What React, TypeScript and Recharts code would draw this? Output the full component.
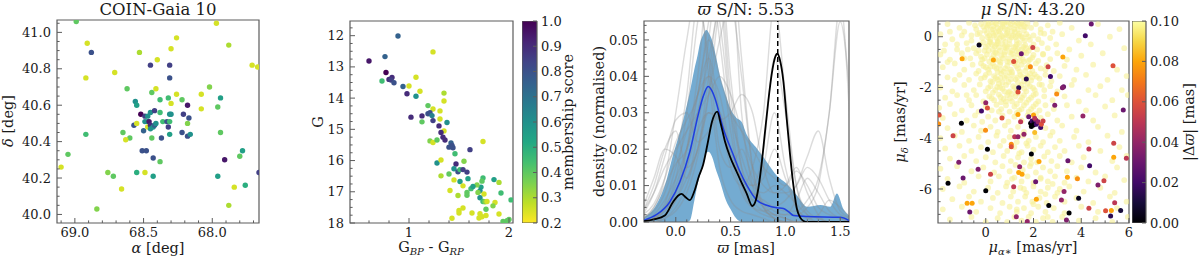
import React from "react";
import {
  Area,
  Bar,
  ComposedChart,
  Line,
  ReferenceArea,
  ReferenceLine,
  Scatter,
  XAxis,
  YAxis,
} from "recharts";

const FONT = "'DejaVu Serif', serif";
const FRAME = "#5c5c5c";
const INK = "#1a1a1a";
const FS_TICK = 13;

// ---------- panel 1: sky positions [ra, dec, membership] ----------
const skyDomainRa: [number, number] = [67.66, 69.13];
const skyDomainDec: [number, number] = [39.953, 41.068];
const skyStars: number[][] = [
  [68.99, 41.06, 0.4], [68.91, 40.94, 0.25], [68.88, 40.89, 0.8], [68.53, 40.89, 0.3],
  [68.92, 40.75, 0.25], [68.71, 40.78, 0.25], [68.45, 40.82, 0.85], [68.4, 40.85, 0.25],
  [68.31, 40.82, 0.85], [68.3, 40.91, 0.25], [68.26, 40.97, 0.25], [68.31, 40.75, 0.8],
  [67.97, 41.05, 0.25], [67.88, 40.93, 0.3], [67.71, 40.82, 0.25], [67.67, 40.81, 0.25],
  [68.62, 40.69, 0.4], [68.44, 40.67, 0.4], [68.41, 40.69, 0.25], [68.26, 40.66, 0.25],
  [68.02, 40.7, 0.35], [68.08, 40.66, 0.25], [67.94, 40.64, 0.55], [68.56, 40.62, 0.6],
  [68.55, 40.6, 0.55], [68.38, 40.63, 0.45], [68.32, 40.64, 0.45], [68.3, 40.61, 0.25],
  [68.22, 40.63, 0.4], [68.08, 40.58, 0.25], [67.96, 40.59, 0.4], [68.18, 40.6, 0.95],
  [68.52, 40.55, 1.0], [68.49, 40.54, 0.85], [68.47, 40.54, 0.6], [68.45, 40.56, 0.6],
  [68.42, 40.57, 0.85], [68.38, 40.56, 0.45], [68.31, 40.55, 0.6], [68.3, 40.55, 0.6],
  [68.21, 40.55, 0.85], [68.17, 40.53, 0.8], [68.57, 40.49, 0.8], [68.55, 40.5, 0.25],
  [68.5, 40.46, 0.75], [68.49, 40.51, 0.6], [68.47, 40.51, 0.6], [68.47, 40.48, 0.25],
  [68.46, 40.51, 0.95], [68.45, 40.49, 0.9], [68.45, 40.47, 0.6], [68.43, 40.48, 0.6],
  [68.42, 40.49, 0.75], [68.41, 40.5, 0.6], [68.36, 40.51, 0.45], [68.33, 40.51, 0.8],
  [68.32, 40.48, 0.85], [68.31, 40.51, 0.45], [68.31, 40.44, 0.55], [68.44, 40.42, 0.4],
  [68.37, 40.42, 0.8], [68.22, 40.45, 0.8], [68.18, 40.5, 0.35], [68.18, 40.43, 0.8],
  [68.16, 40.44, 0.6], [68.65, 40.45, 0.4], [68.6, 40.42, 0.4], [68.63, 40.41, 0.25],
  [68.92, 40.44, 0.45], [67.94, 40.45, 0.4], [68.51, 40.35, 0.8], [68.48, 40.35, 0.8],
  [68.43, 40.31, 0.8], [68.38, 40.29, 0.4], [69.05, 40.33, 0.4], [69.1, 40.26, 0.25],
  [68.76, 40.23, 0.35], [68.72, 40.21, 0.4], [68.55, 40.23, 0.5], [68.49, 40.23, 0.25],
  [68.43, 40.21, 0.55], [68.66, 40.14, 0.25], [68.84, 40.03, 0.35], [67.96, 40.21, 0.55],
  [67.91, 40.3, 0.95], [67.8, 40.32, 0.4], [67.78, 40.35, 0.55], [67.76, 40.16, 0.5],
  [67.84, 40.15, 0.25], [67.88, 40.05, 0.3], [67.66, 40.23, 0.85],
];
const skyRaTicks = [67.7, 67.8, 67.9, 68.0, 68.1, 68.2, 68.3, 68.4, 68.5, 68.6, 68.7, 68.8, 68.9, 69.0, 69.1];
const skyRaMajor = [68.0, 68.5, 69.0];
const skyDecTicks = [40.0, 40.05, 40.1, 40.15, 40.2, 40.25, 40.3, 40.35, 40.4, 40.45, 40.5, 40.55, 40.6, 40.65, 40.7, 40.75, 40.8, 40.85, 40.9, 40.95, 41.0, 41.05];
const skyDecMajor = [40.0, 40.2, 40.4, 40.6, 40.8, 41.0];

// ---------- panel 2: CMD [bp-rp, G, membership] ----------
const cmdDomainColor: [number, number] = [0.41, 2.04];
const cmdDomainMag: [number, number] = [11.53, 18];
const cmdStars: number[][] = [
  [0.89, 12.01, 0.75], [0.6, 12.81, 0.95], [0.76, 12.67, 0.75], [1.24, 12.52, 0.25],
  [0.77, 13.18, 1.0], [0.73, 13.45, 0.45], [0.8, 13.4, 0.9], [0.83, 13.34, 0.9],
  [0.82, 13.42, 0.85], [0.85, 13.51, 0.8], [0.94, 13.63, 0.75], [1.0, 13.61, 0.25],
  [1.07, 13.33, 0.25], [0.98, 13.86, 0.9], [1.07, 13.94, 0.6], [1.11, 13.78, 0.25],
  [1.35, 13.84, 0.3], [1.35, 14.09, 0.25], [1.19, 14.24, 0.4], [1.24, 14.35, 0.25],
  [1.31, 14.41, 0.25], [1.19, 14.5, 0.8], [1.21, 14.47, 0.8], [1.23, 14.56, 0.65],
  [1.02, 14.61, 0.9], [1.13, 14.57, 0.9], [1.13, 14.76, 0.4], [1.24, 14.72, 0.85],
  [1.31, 14.67, 0.25], [1.38, 14.78, 0.6], [1.3, 14.89, 0.9], [1.35, 15.05, 0.25],
  [1.32, 15.1, 0.9], [1.34, 15.25, 0.9], [1.36, 15.34, 0.9], [1.21, 15.37, 0.35],
  [1.24, 15.42, 0.25], [1.28, 15.34, 0.4], [1.42, 15.44, 0.75], [1.43, 15.52, 0.8],
  [1.4, 15.57, 0.8], [1.44, 15.59, 0.8], [1.61, 15.65, 0.85], [1.74, 15.39, 0.25],
  [1.46, 15.78, 0.45], [1.28, 16.08, 0.6], [1.32, 15.98, 0.25], [1.47, 16.11, 0.9],
  [1.55, 16.02, 0.35], [1.45, 16.26, 0.6], [1.49, 16.36, 0.8], [1.51, 16.29, 0.45],
  [1.54, 16.29, 0.85], [1.58, 16.37, 0.85], [1.4, 16.43, 0.4], [1.32, 16.49, 0.3],
  [1.59, 16.58, 0.55], [1.45, 16.62, 0.25], [1.51, 16.67, 0.55], [1.74, 16.56, 0.45],
  [1.73, 16.66, 0.4], [1.85, 16.61, 0.55], [1.9, 16.7, 0.3], [1.72, 16.85, 0.55],
  [1.68, 16.78, 0.35], [1.62, 16.9, 0.45], [1.64, 16.83, 0.55], [1.54, 16.81, 0.25],
  [1.41, 16.96, 0.25], [1.71, 16.97, 0.6], [1.69, 17.02, 0.35], [1.75, 17.07, 0.25],
  [1.58, 17.02, 0.4], [1.58, 17.11, 0.4], [1.49, 17.12, 0.3], [1.92, 17.04, 0.45],
  [1.71, 17.19, 0.6], [1.74, 17.31, 0.45], [1.76, 17.32, 0.35], [1.78, 17.31, 0.25],
  [1.86, 17.34, 0.25], [1.84, 17.45, 0.35], [1.77, 17.56, 0.4], [2.02, 17.26, 0.45],
  [1.54, 17.52, 0.25], [1.5, 17.6, 0.25], [1.5, 17.68, 0.25], [1.63, 17.68, 0.25],
  [1.71, 17.7, 0.25], [1.73, 17.8, 0.25], [1.77, 17.76, 0.25], [1.9, 17.71, 0.25],
  [1.43, 17.85, 0.25], [1.7, 17.84, 0.25], [1.94, 17.95, 0.4], [1.98, 17.93, 0.4],
  [2.0, 17.89, 0.4],
];
const cmdColorTicks = [0.6, 0.8, 1.0, 1.2, 1.4, 1.6, 1.8, 2.0];
const cmdColorMajor = [1, 2];
const cmdMagTicks = [11.75, 12, 12.25, 12.5, 12.75, 13, 13.25, 13.5, 13.75, 14, 14.25, 14.5, 14.75, 15, 15.25, 15.5, 15.75, 16, 16.25, 16.5, 16.75, 17, 17.25, 17.5, 17.75, 18];
const cmdMagMajor = [12, 13, 14, 15, 16, 17, 18];
const memDomain: [number, number] = [0.2, 1.0];
const memTicks = [0.2, 0.3, 0.4, 0.5, 0.6, 0.7, 0.8, 0.9, 1.0];

// ---------- panel 3: parallax densities ----------
const plxDomainX: [number, number] = [-0.29, 1.58];
const plxDomainY: [number, number] = [0, 0.0552];
const plxCut = 0.93;
const bandX = [-0.29, -0.18, -0.1, -0.025, 0.05, 0.1, 0.13, 0.17, 0.2, 0.22, 0.25, 0.28, 0.3, 0.33, 0.37, 0.4, 0.46, 0.5, 0.55, 0.6, 0.65, 0.74, 0.83, 0.92, 1.01, 1.1, 1.2, 1.32, 1.41, 1.47, 1.53, 1.58];
const bandHigh = [0.0012, 0.0046, 0.01, 0.0184, 0.026, 0.032, 0.036, 0.042, 0.0459, 0.049, 0.0515, 0.0527, 0.052, 0.05, 0.045, 0.0405, 0.0345, 0.031, 0.0287, 0.0275, 0.0238, 0.0202, 0.0165, 0.0128, 0.0106, 0.0075, 0.0042, 0.0047, 0.0042, 0.0078, 0.0035, 0.0018];
const bandLow = [0, 0, 0, 0, 0, 0, 0.0005, 0.006, 0.0105, 0.0128, 0.016, 0.019, 0.0193, 0.018, 0.014, 0.0115, 0.0058, 0.0035, 0.001, 0, 0, 0, 0, 0, 0, 0, 0, 0, 0, 0, 0, 0];
const medianCurve = [
  [-0.29, 0.0005], [-0.177, 0.002], [-0.055, 0.0055], [0.037, 0.011], [0.128, 0.0193],
  [0.204, 0.0294], [0.25, 0.0345], [0.296, 0.0372], [0.33, 0.036], [0.357, 0.034],
  [0.433, 0.0257], [0.525, 0.0184], [0.586, 0.0138], [0.647, 0.0101], [0.738, 0.006],
  [0.83, 0.0046], [0.921, 0.0039], [0.982, 0.0037], [1.03, 0.0028], [1.073, 0.0018],
  [1.195, 0.0015], [1.5, 0.0013], [1.58, 0.0004],
];
const clusterCurve = [
  [-0.29, 0.0002], [-0.2, 0.0007], [-0.1, 0.0018], [-0.025, 0.0055], [0.02, 0.0072],
  [0.052, 0.0077], [0.09, 0.0068], [0.128, 0.006], [0.17, 0.0085], [0.21, 0.0125],
  [0.25, 0.0158], [0.29, 0.0215], [0.33, 0.0275], [0.378, 0.0303], [0.41, 0.027],
  [0.448, 0.0222], [0.494, 0.018], [0.555, 0.0138], [0.6, 0.0108], [0.647, 0.0078],
  [0.698, 0.0044], [0.725, 0.0055], [0.753, 0.0092], [0.785, 0.0165], [0.814, 0.0248],
  [0.845, 0.0335], [0.876, 0.0408], [0.905, 0.0452], [0.927, 0.0462], [0.95, 0.0445],
  [0.982, 0.0385], [1.01, 0.029], [1.043, 0.0183], [1.075, 0.0095], [1.104, 0.0037],
  [1.135, 0.0012], [1.165, 0.0003], [1.2, 0], [1.58, 0],
];
const greyX = [-0.3, -0.2, -0.1, 0, 0.1, 0.2, 0.3, 0.4, 0.5, 0.6, 0.7, 0.8, 0.9, 1.0, 1.1, 1.2, 1.3, 1.4, 1.5, 1.6];
const greyCurves = [
  [0, 0.001, 0.004, 0.012, 0.03, 0.055, 0.07, 0.05, 0.025, 0.01, 0.004, 0.002, 0.001, 0, 0, 0, 0, 0, 0, 0],
  [0.001, 0.003, 0.008, 0.018, 0.035, 0.06, 0.045, 0.02, 0.015, 0.02, 0.012, 0.004, 0.001, 0, 0, 0, 0, 0, 0, 0],
  [0.003, 0.01, 0.02, 0.025, 0.015, 0.02, 0.04, 0.06, 0.03, 0.01, 0.006, 0.015, 0.03, 0.015, 0.004, 0.001, 0, 0, 0, 0],
  [0, 0, 0.002, 0.006, 0.012, 0.02, 0.035, 0.05, 0.06, 0.04, 0.015, 0.005, 0.002, 0.001, 0, 0, 0, 0, 0, 0],
  [0.002, 0.008, 0.018, 0.028, 0.03, 0.022, 0.025, 0.03, 0.018, 0.008, 0.004, 0.003, 0.004, 0.006, 0.01, 0.018, 0.025, 0.012, 0.003, 0.001],
  [0, 0.002, 0.006, 0.012, 0.02, 0.03, 0.04, 0.035, 0.02, 0.012, 0.008, 0.006, 0.004, 0.003, 0.003, 0.006, 0.012, 0.03, 0.06, 0.02],
  [0, 0, 0.001, 0.004, 0.01, 0.02, 0.03, 0.028, 0.018, 0.012, 0.01, 0.02, 0.045, 0.03, 0.01, 0.003, 0.001, 0, 0, 0],
  [0.004, 0.012, 0.02, 0.018, 0.012, 0.025, 0.05, 0.07, 0.04, 0.015, 0.006, 0.003, 0.002, 0.002, 0.006, 0.012, 0.008, 0.003, 0.001, 0],
  [0, 0.001, 0.003, 0.008, 0.02, 0.04, 0.065, 0.055, 0.03, 0.018, 0.01, 0.008, 0.01, 0.008, 0.005, 0.002, 0.001, 0, 0, 0],
  [0.001, 0.004, 0.01, 0.016, 0.02, 0.035, 0.05, 0.04, 0.03, 0.025, 0.02, 0.015, 0.012, 0.01, 0.014, 0.01, 0.004, 0.002, 0.001, 0],
  [0, 0.001, 0.002, 0.006, 0.015, 0.03, 0.045, 0.06, 0.07, 0.03, 0.01, 0.004, 0.002, 0.001, 0, 0, 0, 0, 0, 0],
  [0.002, 0.005, 0.012, 0.022, 0.028, 0.035, 0.055, 0.065, 0.035, 0.015, 0.01, 0.012, 0.02, 0.012, 0.004, 0.001, 0.002, 0.006, 0.004, 0.001],
  [0.001, 0.004, 0.012, 0.03, 0.05, 0.065, 0.04, 0.015, 0.006, 0.003, 0.002, 0.001, 0, 0, 0, 0, 0, 0, 0, 0],
  [0, 0.001, 0.003, 0.008, 0.015, 0.025, 0.03, 0.028, 0.03, 0.035, 0.03, 0.015, 0.008, 0.01, 0.015, 0.008, 0.002, 0, 0, 0],
  [0, 0.001, 0.004, 0.01, 0.02, 0.035, 0.045, 0.03, 0.015, 0.01, 0.015, 0.03, 0.06, 0.035, 0.01, 0.002, 0, 0, 0, 0],
  [0.003, 0.008, 0.015, 0.02, 0.025, 0.03, 0.035, 0.04, 0.035, 0.025, 0.015, 0.01, 0.008, 0.008, 0.01, 0.015, 0.012, 0.006, 0.002, 0.001],
  [0, 0, 0.001, 0.003, 0.008, 0.018, 0.035, 0.06, 0.075, 0.045, 0.015, 0.004, 0.001, 0, 0, 0, 0, 0, 0, 0],
  [0, 0.001, 0.005, 0.015, 0.025, 0.035, 0.04, 0.03, 0.02, 0.012, 0.008, 0.005, 0.003, 0.002, 0.002, 0.004, 0.01, 0.03, 0.055, 0.03],
];
const plxXTicks = [-0.2, -0.1, 0, 0.1, 0.2, 0.3, 0.4, 0.5, 0.6, 0.7, 0.8, 0.9, 1.0, 1.1, 1.2, 1.3, 1.4, 1.5];
const plxXMajor = [0, 0.5, 1.0, 1.5];
const plxYTicks = [0, 0.002, 0.004, 0.006, 0.008, 0.01, 0.012, 0.014, 0.016, 0.018, 0.02, 0.022, 0.024, 0.026, 0.028, 0.03, 0.032, 0.034, 0.036, 0.038, 0.04, 0.042, 0.044, 0.046, 0.048, 0.05, 0.052, 0.054];
const plxYMajor = [0, 0.01, 0.02, 0.03, 0.04, 0.05];

// ---------- panel 4: proper motions ----------
const pmDomainX: [number, number] = [-2, 6];
const pmDomainY: [number, number] = [-7.34, 0.62];
// stars with |dplx| < 0.1 : [pmra, pmdec, |dplx|]
const pmStars: number[][] = [
  [4.42, 0.5, 0.03], [4.17, 0.04, 0.02], [-0.28, -0.33, 0.005], [1.97, -0.42, 0.055],
  [1.49, -0.67, 0.03], [3.23, -0.8, 0.08], [-0.99, -0.87, 0.08], [0.32, -0.92, 0.08],
  [1.17, -0.98, 0.06], [1.87, -1.18, 0.075], [2.61, -1.18, 0.055], [5.33, -1.14, 0.06],
  [1.7, -1.67, 0.015], [2.71, -1.57, 0.02], [1.38, -2.01, 0.015], [3.26, -1.97, 0.03],
  [3.21, -2.01, 0.035], [1.35, -2.18, 0.06], [2.97, -2.26, 0.075], [0.0, -2.6, 0.04],
  [0.07, -2.81, 0.06], [-0.18, -2.93, 0.02], [-1.02, -3.41, 0.0], [-1.95, -3.08, 0.06],
  [-1.97, -3.44, 0.075], [-1.37, -3.9, 0.055], [-0.01, -3.69, 0.075], [0.68, -3.2, 0.06],
  [1.35, -3.06, 0.08], [1.46, -3.35, 0.05], [1.8, -3.15, 0.03], [2.0, -3.08, 0.08],
  [1.88, -3.41, 0.0], [1.94, -3.32, 0.02], [2.02, -3.37, 0.01], [2.09, -3.28, 0.03],
  [2.0, -3.48, 0.0], [2.12, -3.45, 0.02], [2.05, -3.21, 0.05], [2.19, -3.35, 0.04],
  [1.91, -3.54, 0.0], [2.05, -3.77, 0.085], [2.3, -3.58, 0.02], [2.33, -3.45, 0.06],
  [2.4, -3.32, 0.055], [1.6, -3.84, 0.04], [1.21, -3.94, 0.05], [1.35, -3.94, 0.04],
  [1.07, -4.24, 0.075], [1.07, -4.34, 0.06], [0.07, -4.43, 0.0], [1.91, -4.62, 0.0],
  [2.23, -4.92, 0.08], [3.44, -4.89, 0.03], [4.32, -4.42, 0.05], [4.35, -5.08, 0.02],
  [5.36, -4.2, 0.055], [5.36, -4.75, 0.08], [5.89, -4.79, 0.05], [5.76, -2.89, 0.03],
  [4.07, -3.12, 0.04], [2.89, -2.7, 0.035], [-1.13, -4.95, 0.035], [-0.32, -5.22, 0.035],
  [-0.95, -5.57, 0.03], [-1.58, -5.77, 0.0], [0.2, -5.42, 0.055], [0.0, -6.07, 0.0],
  [1.42, -5.12, 0.04], [1.38, -5.35, 0.08], [1.52, -5.42, 0.08], [1.17, -5.91, 0.05],
  [2.09, -5.71, 0.03], [2.12, -6.4, 0.08], [2.64, -6.65, 0.0], [3.28, -6.1, 0.04],
  [3.17, -6.43, 0.04], [3.42, -5.54, 0.08], [3.84, -5.6, 0.075], [3.89, -6.36, 0.005],
  [4.7, -5.84, 0.035], [4.95, -5.68, 0.055], [3.49, -6.95, 0.0], [3.38, -7.22, 0.035],
  [4.32, -6.76, 0.055], [5.02, -6.86, 0.06], [5.26, -6.85, 0.08], [5.4, -6.54, 0.05],
  [5.23, -7.06, 0.015], [5.65, -6.85, 0.01], [-0.78, -6.56, 0.08], [-0.57, -6.56, 0.08],
  [-0.67, -6.91, 0.03], [1.28, -7.09, 0.04], [1.74, -7.28, 0.04],
];
// stars with |dplx| >= 0.1 (drawn at the top of the colour scale): [pmra, pmdec]
const pmField: number[][] = [
  [-1.6, 0.5], [-1.1, 0.35], [-0.7, 0.55], [-0.4, 0.3], [-0.2, 0.5], [-0.05, 0.25], [0.1, 0.45], [0.25, 0.58], [0.3, 0.3], [0.45, 0.5], [0.55, 0.22], [0.7, 0.4], [0.85, 0.58], [0.9, 0.28], [1.05, 0.48], [1.2, 0.3], [1.3, 0.55], [1.45, 0.4], [1.6, 0.25], [1.75, 0.52], [1.9, 0.35], [2.1, 0.5], [2.3, 0.3], [2.6, 0.45], [3.1, 0.55], [3.6, 0.35], [4.7, 0.5], [5.6, 0.3], [0.0, 0.6], [0.6, 0.6], [1.15, 0.6], [1.55, 0.6], [-0.9, 0.2], [2.8, 0.2],
  [-1.9, 0.1], [-1.4, -0.1], [-1.0, 0.05], [-0.6, -0.15], [-0.35, 0.1], [-0.15, -0.05], [0.05, 0.15], [0.2, -0.1], [0.35, 0.05], [0.5, -0.18], [0.6, 0.12], [0.75, -0.05], [0.9, 0.15], [1.0, -0.12], [1.15, 0.05], [1.3, -0.15], [1.4, 0.12], [1.55, -0.05], [1.7, 0.1], [1.85, -0.12], [2.0, 0.05], [2.2, -0.1], [2.45, 0.12], [2.7, -0.05], [3.2, 0.1], [3.9, -0.15], [5.2, 0.0], [0.42, 0.18], [1.22, 0.18], [0.15, -0.2], [0.82, -0.2],
  [-1.7, -0.3], [-1.2, -0.5], [-0.8, -0.25], [-0.5, -0.45], [-0.25, -0.3], [-0.05, -0.55], [0.1, -0.35], [0.3, -0.5], [0.45, -0.3], [0.6, -0.55], [0.7, -0.28], [0.85, -0.45], [1.0, -0.3], [1.1, -0.55], [1.25, -0.38], [1.4, -0.25], [1.5, -0.5], [1.65, -0.33], [1.8, -0.55], [2.0, -0.3], [2.15, -0.5], [2.35, -0.25], [2.6, -0.45], [2.95, -0.3], [3.5, -0.5], [4.4, -0.3], [5.8, -0.45], [0.2, -0.22], [0.55, -0.42], [1.35, -0.48],
  [-1.9, -0.7], [-1.5, -0.9], [-1.0, -0.65], [-0.65, -0.85], [-0.4, -0.65], [-0.15, -0.9], [0.05, -0.7], [0.25, -0.85], [0.4, -0.62], [0.55, -0.95], [0.65, -0.75], [0.8, -0.6], [0.95, -0.85], [1.1, -0.68], [1.25, -0.95], [1.35, -0.7], [1.55, -0.88], [1.7, -0.65], [1.85, -0.9], [2.0, -0.72], [2.2, -0.95], [2.4, -0.68], [2.7, -0.88], [3.0, -0.65], [3.4, -0.9], [4.0, -0.75], [4.9, -0.65], [0.15, -0.98], [0.9, -0.98], [1.6, -0.98],
  [-1.8, -1.2], [-1.3, -1.05], [-0.9, -1.3], [-0.55, -1.1], [-0.3, -1.35], [-0.1, -1.15], [0.1, -1.3], [0.3, -1.05], [0.45, -1.25], [0.6, -1.1], [0.75, -1.38], [0.9, -1.15], [1.05, -1.3], [1.2, -1.05], [1.35, -1.25], [1.5, -1.1], [1.65, -1.35], [1.8, -1.15], [1.95, -1.35], [2.1, -1.05], [2.3, -1.25], [2.55, -1.12], [2.85, -1.35], [3.3, -1.15], [3.8, -1.3], [4.5, -1.1], [5.5, -1.3], [0.5, -1.4], [1.1, -1.4], [0.2, -1.18],
  [-1.6, -1.6], [-1.1, -1.5], [-0.7, -1.7], [-0.4, -1.45], [-0.2, -1.65], [0.0, -1.5], [0.2, -1.75], [0.35, -1.55], [0.5, -1.7], [0.65, -1.45], [0.8, -1.62], [0.95, -1.78], [1.1, -1.5], [1.25, -1.68], [1.45, -1.5], [1.6, -1.75], [1.75, -1.55], [1.9, -1.72], [2.05, -1.48], [2.25, -1.65], [2.5, -1.5], [2.75, -1.75], [3.1, -1.55], [3.7, -1.7], [4.2, -1.5], [5.1, -1.7], [5.9, -1.55], [0.7, -1.8], [1.35, -1.8],
  [-1.9, -2.0], [-1.4, -2.15], [-0.9, -1.9], [-0.5, -2.1], [-0.25, -1.88], [0.0, -2.15], [0.2, -1.95], [0.4, -2.1], [0.55, -1.85], [0.7, -2.05], [0.85, -1.9], [1.0, -2.15], [1.15, -1.95], [1.3, -2.12], [1.5, -1.9], [1.7, -2.15], [1.85, -1.95], [2.05, -2.1], [2.25, -1.88], [2.45, -2.1], [2.7, -1.95], [3.0, -2.15], [3.6, -1.9], [4.3, -2.1], [4.8, -1.95], [5.7, -2.1], [0.95, -2.2], [0.3, -2.2],
  [-1.7, -2.4], [-1.2, -2.3], [-0.7, -2.5], [-0.4, -2.3], [-0.1, -2.55], [0.15, -2.35], [0.35, -2.5], [0.55, -2.28], [0.75, -2.45], [0.9, -2.3], [1.1, -2.55], [1.25, -2.35], [1.45, -2.5], [1.6, -2.3], [1.8, -2.48], [2.0, -2.3], [2.2, -2.55], [2.45, -2.35], [2.8, -2.5], [3.3, -2.35], [3.9, -2.55], [4.6, -2.3], [5.3, -2.5], [5.95, -2.3], [0.65, -2.58], [1.35, -2.22],
  [-1.95, -2.8], [-1.5, -2.65], [-1.0, -2.9], [-0.6, -2.7], [-0.3, -2.95], [0.0, -2.75], [0.25, -2.9], [0.45, -2.68], [0.65, -2.85], [0.85, -2.7], [1.0, -2.95], [1.2, -2.75], [1.4, -2.9], [1.6, -2.7], [1.8, -2.95], [2.0, -2.75], [2.25, -2.9], [2.5, -2.7], [2.85, -2.85], [3.4, -2.7], [4.2, -2.9], [5.0, -2.75],
  [-1.8, -3.2], [-1.3, -3.05], [-0.8, -3.3], [-0.45, -3.1], [-0.15, -3.35], [0.1, -3.15], [0.4, -3.3], [0.7, -3.1], [0.95, -3.35], [1.2, -3.15], [1.5, -3.3], [1.75, -3.1], [2.3, -3.2], [2.6, -3.05], [3.0, -3.3], [3.6, -3.15], [4.5, -3.3], [5.4, -3.1],
  [-1.6, -3.6], [-1.0, -3.75], [-0.5, -3.5], [-0.2, -3.7], [0.2, -3.55], [0.5, -3.75], [0.8, -3.5], [1.05, -3.7], [1.35, -3.55], [1.6, -3.75], [2.5, -3.6], [2.8, -3.75], [3.2, -3.5], [3.8, -3.7], [4.7, -3.55], [5.7, -3.75],
  [-1.9, -4.0], [-1.3, -3.9], [-0.7, -4.1], [-0.3, -3.95], [0.1, -4.15], [0.45, -3.9], [0.75, -4.1], [1.0, -3.95], [1.3, -4.15], [1.55, -3.9], [1.8, -4.1], [2.1, -3.95], [2.4, -4.15], [2.7, -3.9], [3.1, -4.1], [3.7, -3.95], [4.3, -4.15], [5.1, -3.9],
  [-1.7, -4.4], [-1.1, -4.3], [-0.6, -4.5], [-0.2, -4.35], [0.3, -4.55], [0.6, -4.3], [0.9, -4.5], [1.2, -4.35], [1.5, -4.55], [1.75, -4.3], [2.0, -4.45], [2.3, -4.3], [2.6, -4.55], [2.9, -4.35], [3.3, -4.5], [3.9, -4.3], [4.8, -4.5], [5.6, -4.35],
  [-1.5, -4.8], [-0.9, -4.7], [-0.4, -4.9], [0.0, -4.75], [0.4, -4.95], [0.75, -4.7], [1.05, -4.9], [1.35, -4.75], [1.6, -4.95], [1.9, -4.8], [2.15, -4.95], [2.45, -4.72], [2.75, -4.9], [3.1, -4.7], [3.6, -4.95], [4.1, -4.75], [5.3, -4.9], [5.9, -4.7],
  [-1.9, -5.2], [-1.2, -5.1], [-0.6, -5.3], [-0.1, -5.15], [0.35, -5.35], [0.7, -5.1], [1.0, -5.3], [1.25, -5.05], [1.55, -5.25], [1.85, -5.1], [2.1, -5.35], [2.4, -5.15], [2.7, -5.3], [3.0, -5.1], [3.4, -5.3], [4.0, -5.15], [4.6, -5.35], [5.5, -5.15],
  [-1.6, -5.6], [-0.9, -5.75], [-0.3, -5.5], [0.2, -5.7], [0.55, -5.5], [0.9, -5.75], [1.2, -5.55], [1.5, -5.7], [1.75, -5.5], [2.0, -5.75], [2.3, -5.55], [2.6, -5.7], [2.9, -5.5], [3.3, -5.75], [3.8, -5.55], [4.3, -5.7], [5.0, -5.5], [5.8, -5.65],
  [-1.8, -6.0], [-1.1, -5.9], [-0.5, -6.1], [0.1, -5.95], [0.5, -6.15], [0.85, -5.9], [1.15, -6.1], [1.45, -5.95], [1.7, -6.15], [2.0, -5.9], [2.3, -6.1], [2.6, -5.95], [3.0, -6.15], [3.5, -5.9], [4.1, -6.1], [4.8, -5.95], [5.4, -6.15],
  [-1.4, -6.4], [-0.7, -6.3], [-0.2, -6.5], [0.3, -6.35], [0.7, -6.55], [1.05, -6.3], [1.35, -6.5], [1.65, -6.3], [1.95, -6.5], [2.25, -6.35], [2.55, -6.55], [2.9, -6.3], [3.3, -6.5], [3.8, -6.35], [4.5, -6.55], [5.2, -6.3], [5.9, -6.5],
  [-1.8, -6.8], [-1.0, -6.7], [-0.4, -6.9], [0.2, -6.75], [0.6, -6.95], [1.0, -6.7], [1.3, -6.9], [1.6, -6.75], [1.9, -6.95], [2.2, -6.7], [2.5, -6.9], [2.85, -6.75], [3.3, -6.95], [4.0, -6.7], [4.7, -6.9], [5.5, -6.75],
  [-1.5, -7.2], [-0.6, -7.1], [0.0, -7.3], [0.5, -7.15], [0.9, -7.3], [1.2, -7.1], [1.5, -7.25], [1.8, -7.1], [2.1, -7.3], [2.4, -7.15], [2.8, -7.3], [3.2, -7.1], [3.9, -7.25], [4.6, -7.15], [5.3, -7.3], [5.95, -7.1],
  [0.05, 0.38], [0.32, 0.42], [0.62, 0.32], [0.78, 0.5], [1.0, 0.38], [1.38, 0.48], [1.68, 0.38], [0.15, 0.05], [0.45, -0.05], [0.68, 0.02], [0.95, 0.05], [1.25, -0.02], [1.48, 0.02], [1.78, 0.0], [0.0, -0.4], [0.38, -0.38], [0.78, -0.4], [1.18, -0.42], [1.58, -0.4], [1.9, -0.42], [-0.2, -0.78], [0.32, -0.72], [0.72, -0.85], [1.18, -0.8], [1.45, -0.75], [1.95, -0.82], [0.0, -1.2], [0.38, -1.18], [0.82, -1.25], [1.28, -1.15], [1.72, -1.22], [-0.05, -1.6], [0.42, -1.62], [0.88, -1.55], [1.32, -1.6], [1.68, -1.62], [2.15, -1.58], [0.1, -2.02], [0.48, -1.98], [0.78, -2.15], [1.22, -2.02], [1.62, -2.05], [1.98, -2.02], [0.25, -2.42], [0.62, -2.38], [1.02, -2.42], [1.52, -2.4], [1.9, -2.4], [-0.45, 0.45], [-0.6, 0.05], [-0.75, -0.5], [2.3, 0.15], [2.4, -0.7], [2.5, -1.3], [2.35, -1.9],
  [1.4, -4.6], [1.9, -5.0], [2.3, -5.6], [1.6, -6.0], [2.5, -6.2], [2.0, -6.6], [1.1, -5.6], [2.8, -5.8], [1.3, -6.8], [2.6, -7.1], [3.1, -6.0], [1.7, -4.2],
  [-1.5, 0.2], [-1.2, -0.3], [-0.9, -0.85], [-1.6, -1.0], [-1.3, -1.7], [-0.8, -2.3], [-1.75, -0.55],
  [0.12, 0.52], [0.4, 0.55], [0.7, 0.52], [0.95, 0.58], [1.22, 0.45], [1.5, 0.52], [-0.1, 0.4], [0.22, 0.28], [0.5, 0.35], [0.8, 0.3], [1.1, 0.22], [1.35, 0.28], [1.6, 0.42], [-0.25, 0.15], [0.08, -0.02], [0.3, 0.12], [0.58, -0.08], [0.85, 0.08], [1.08, -0.02], [1.35, 0.05], [1.62, -0.15], [-0.1, -0.22], [0.25, -0.3], [0.5, -0.25], [0.92, -0.4], [1.3, -0.3], [1.7, -0.45], [-0.3, -0.55], [0.12, -0.55], [0.45, -0.65], [0.78, -0.7], [1.02, -0.62], [1.3, -0.58], [1.6, -0.62], [-0.05, -0.85], [0.42, -0.88], [0.62, -1.0], [1.0, -1.0], [1.42, -0.95], [1.78, -0.95], [-0.2, -1.05], [0.15, -1.42], [0.62, -1.3], [0.98, -1.4], [1.42, -1.38], [1.85, -1.45], [0.28, -1.78], [0.62, -1.62], [1.05, -1.68], [1.55, -1.58], [1.95, -1.6], [0.6, -2.0], [1.1, -2.25], [1.4, -2.0], [1.75, -1.85], [2.1, -2.25], [0.85, -2.55], [1.3, -2.65], [1.7, -2.6], [2.1, -2.65], [1.5, -2.85], [1.9, -2.85], [2.1, -3.05], [1.3, -3.0], [0.55, -2.95],
];
const pmXTicks = [-1.5, -1, -0.5, 0, 0.5, 1, 1.5, 2, 2.5, 3, 3.5, 4, 4.5, 5, 5.5, 6];
const pmXMajor = [0, 2, 4, 6];
const pmYTicks = [-7, -6.5, -6, -5.5, -5, -4.5, -4, -3.5, -3, -2.5, -2, -1.5, -1, -0.5, 0, 0.5];
const pmYMajor = [-6, -4, -2, 0];
const dplxDomain: [number, number] = [0, 0.1];
const dplxTicks = [0, 0.02, 0.04, 0.06, 0.08, 0.1];

// ---------- colour maps ----------
const VIRIDIS = ["#440154", "#482475", "#414487", "#355f8d", "#2a788e", "#21918c", "#22a884", "#44bf70", "#7ad151", "#bddf26", "#fde725"];
const INFERNO = ["#000004", "#160b39", "#420a68", "#6a176e", "#932667", "#bc3754", "#dd513a", "#f37819", "#fca50a", "#f6d746", "#fcffa4"];

function cmap(stops: string[], t: number) {
  const tt = Math.max(0, Math.min(1, t));
  const s = tt * (stops.length - 1);
  const i = Math.min(stops.length - 2, Math.floor(s));
  const f = s - i;
  const a = stops[i], b = stops[i + 1];
  const ch = (h: string, k: number) => parseInt(h.slice(1 + 2 * k, 3 + 2 * k), 16);
  const mix = [0, 1, 2].map((k) => Math.round(ch(a, k) + (ch(b, k) - ch(a, k)) * f));
  return `rgb(${mix[0]},${mix[1]},${mix[2]})`;
}
const memColor = (m: number) => cmap(VIRIDIS, 1 - (m - memDomain[0]) / (memDomain[1] - memDomain[0]));
const plxColor = (v: number) => cmap(INFERNO, v / dplxDomain[1]);

// ---------- shared axis helpers ----------
type Side = "bottom" | "left" | "right";
function tickFor(side: Side, major: number[], digits: number) {
  return (props: any) => {
    const { x, y, payload } = props;
    const v = Number(payload.value);
    const isMajor = major.some((m) => Math.abs(m - v) < 1e-6);
    const len = isMajor ? 5 : 2.6;
    const label = isMajor ? v.toFixed(digits) : null;
    if (side === "bottom") {
      return (
        <g>
          <line x1={x} y1={y} x2={x} y2={y - len} stroke={FRAME} strokeWidth={1} />
          {label !== null && (
            <text x={x} y={y + 14} textAnchor="middle" fontSize={FS_TICK} fontFamily={FONT} fill={INK}>
              {label}
            </text>
          )}
        </g>
      );
    }
    if (side === "left") {
      return (
        <g>
          <line x1={x} y1={y} x2={x + len} y2={y} stroke={FRAME} strokeWidth={1} />
          {label !== null && (
            <text x={x - 6} y={y + 4.6} textAnchor="end" fontSize={FS_TICK} fontFamily={FONT} fill={INK}>
              {label}
            </text>
          )}
        </g>
      );
    }
    return (
      <g>
        <line x1={x} y1={y} x2={x - 4} y2={y} stroke={FRAME} strokeWidth={1} />
        {label !== null && (
          <text x={x + 4} y={y + 4.6} textAnchor="start" fontSize={FS_TICK} fontFamily={FONT} fill={INK}>
            {label}
          </text>
        )}
      </g>
    );
  };
}

const toXY = (rows: number[][], key: string) =>
  rows.map((r) => ({ x: r[0], y: r[1], [key]: r[2] }));

const box = (L: number, R: number, T: number, B: number) => ({
  left: L - 50,
  width: R - L + 64,
  margin: { top: T, right: 14, bottom: 260 - B - 30, left: 0 },
});

const P1 = box(57, 259, 20, 223);
const P2 = box(350, 513, 21, 223);
const P3 = box(644, 849, 21, 222);
const P4 = box(938, 1129, 21, 223);

function Colorbar({ left, width, top, bottom, domain, ticks, digits, gradId, stops, reverse }: any) {
  const data = [{ k: "cb", r: domain }];
  return (
    <div style={{ position: "absolute", left, top: 0 }}>
      <ComposedChart width={width + 45} height={260} data={data} margin={{ top, right: 0, bottom: 260 - bottom, left: 0 }} barCategoryGap={0}>
        <defs>
          <linearGradient id={gradId} x1="0" y1="1" x2="0" y2="0">
            {stops.map((_: string, i: number) => {
              const o = i / (stops.length - 1);
              return <stop key={i} offset={o} stopColor={reverse ? stops[stops.length - 1 - i] : stops[i]} />;
            })}
          </linearGradient>
        </defs>
        <XAxis dataKey="k" type="category" hide />
        <YAxis
          orientation="right"
          type="number"
          domain={domain}
          ticks={ticks}
          width={45}
          interval={0}
          tickSize={0}
          tickMargin={0}
          axisLine={false}
          tickLine={false}
          allowDataOverflow
          tick={tickFor("right", ticks, digits)}
        />
        <Bar dataKey="r" fill={`url(#${gradId})`} stroke={FRAME} strokeWidth={1.2} isAnimationActive={false} />
      </ComposedChart>
    </div>
  );
}

function frameArea(xd: [number, number], yd: [number, number]) {
  return (
    <ReferenceArea x1={xd[0]} x2={xd[1]} y1={yd[0]} y2={yd[1]} fill="none" fillOpacity={0} stroke={FRAME} strokeWidth={1.2} ifOverflow="visible" />
  );
}

export default function App() {
  const sky = toXY(skyStars, "m");
  const cmd = toXY(cmdStars, "m");
  const pm = toXY(pmStars, "d");
  const field = pmField.map((r) => ({ x: r[0], y: r[1] }));
  const band = bandX.map((x, i) => ({ x, band: [bandLow[i], bandHigh[i]] }));
  const median = medianCurve.map(([x, y]) => ({ x, y }));
  const cluster = clusterCurve.map(([x, y]) => ({ x, y }));
  const greys = greyCurves.map((c) => c.map((y, i) => ({ x: greyX[i], y })));

  const memDot = (p: any) => <circle cx={p.cx} cy={p.cy} r={2.7} fill={memColor(p.payload.m)} />;
  const plxDot = (p: any) => <circle cx={p.cx} cy={p.cy} r={2.5} fill={plxColor(p.payload.d)} />;
  const fieldDot = (p: any) => <circle cx={p.cx} cy={p.cy} r={2.9} fill="#f6ef92" fillOpacity={0.58} />;

  const axisCommon = { type: "number" as const, interval: 0 as const, tickSize: 0, tickMargin: 0, axisLine: false, tickLine: false, allowDataOverflow: true };

  const txt = { fontFamily: FONT, fill: INK };

  return (
    <div style={{ position: "absolute", left: 0, top: 0, width: 1200, height: 260, background: "#fff", overflow: "hidden" }}>
      {/* panel 1 */}
      <div style={{ position: "absolute", left: P1.left, top: 0 }}>
        <ComposedChart width={P1.width} height={260} margin={P1.margin}>
          <XAxis {...axisCommon} dataKey="x" domain={skyDomainRa} reversed ticks={skyRaTicks} height={30} tick={tickFor("bottom", skyRaMajor, 1)} />
          <YAxis {...axisCommon} dataKey="y" domain={skyDomainDec} ticks={skyDecTicks} width={50} tick={tickFor("left", skyDecMajor, 1)} />
          <Scatter data={sky} shape={memDot} isAnimationActive={false} />
          {frameArea(skyDomainRa, skyDomainDec)}
        </ComposedChart>
      </div>

      {/* panel 2 */}
      <div style={{ position: "absolute", left: P2.left, top: 0 }}>
        <ComposedChart width={P2.width} height={260} margin={P2.margin}>
          <XAxis {...axisCommon} dataKey="x" domain={cmdDomainColor} ticks={cmdColorTicks} height={30} tick={tickFor("bottom", cmdColorMajor, 0)} />
          <YAxis {...axisCommon} dataKey="y" domain={cmdDomainMag} reversed ticks={cmdMagTicks} width={50} tick={tickFor("left", cmdMagMajor, 0)} />
          <Scatter data={cmd} shape={memDot} isAnimationActive={false} />
          {frameArea(cmdDomainColor, cmdDomainMag)}
        </ComposedChart>
      </div>
      <Colorbar left={522} width={15} top={21} bottom={223} domain={memDomain} ticks={memTicks} digits={1} gradId="virGrad" stops={VIRIDIS} reverse />

      {/* panel 3 */}
      <div style={{ position: "absolute", left: P3.left, top: 0 }}>
        <ComposedChart width={P3.width} height={260} margin={P3.margin}>
          <XAxis {...axisCommon} dataKey="x" domain={plxDomainX} ticks={plxXTicks} height={30} tick={tickFor("bottom", plxXMajor, 1)} />
          <YAxis {...axisCommon} domain={plxDomainY} ticks={plxYTicks} width={50} tick={tickFor("left", plxYMajor, 2)} />
          {greys.map((g, i) => (
            <Line key={i} data={g} dataKey="y" type="monotone" stroke="#8c8c8c" strokeOpacity={0.3} strokeWidth={1.4} dot={false} activeDot={false} isAnimationActive={false} />
          ))}
          <Area data={band} dataKey="band" type="monotone" stroke="none" fill="#1f77b4" fillOpacity={0.62} isAnimationActive={false} />
          <Line data={median} dataKey="y" type="monotone" stroke="#1f3ee0" strokeWidth={1.5} dot={false} activeDot={false} isAnimationActive={false} />
          <Line data={cluster} dataKey="y" type="monotone" stroke="#000" strokeWidth={1.8} dot={false} activeDot={false} isAnimationActive={false} />
          <ReferenceLine x={plxCut} stroke="#000" strokeWidth={1.5} strokeDasharray="5 3" />
          {frameArea(plxDomainX, plxDomainY)}
        </ComposedChart>
      </div>

      {/* panel 4 */}
      <div style={{ position: "absolute", left: P4.left, top: 0 }}>
        <ComposedChart width={P4.width} height={260} margin={P4.margin}>
          <XAxis {...axisCommon} dataKey="x" domain={pmDomainX} ticks={pmXTicks} height={30} tick={tickFor("bottom", pmXMajor, 0)} />
          <YAxis {...axisCommon} dataKey="y" domain={pmDomainY} ticks={pmYTicks} width={50} tick={tickFor("left", pmYMajor, 0)} />
          <Scatter data={field} shape={fieldDot} isAnimationActive={false} />
          <Scatter data={pm} shape={plxDot} isAnimationActive={false} />
          {frameArea(pmDomainX, pmDomainY)}
        </ComposedChart>
      </div>
      <Colorbar left={1132} width={14} top={21} bottom={223} domain={dplxDomain} ticks={dplxTicks} digits={2} gradId="infGrad" stops={INFERNO} />

      {/* titles and axis labels */}
      <svg width={1200} height={260} style={{ position: "absolute", left: 0, top: 0, pointerEvents: "none" }}>
        <text x={158} y={14.5} textAnchor="middle" fontSize={16.5} {...txt}>COIN-Gaia 10</text>
        <text x={158} y={253} textAnchor="middle" fontSize={14.5} {...txt}>
          <tspan fontStyle="italic">α</tspan> [deg]
        </text>
        <text transform="translate(13,121) rotate(-90)" textAnchor="middle" fontSize={14.5} {...txt}>
          <tspan fontStyle="italic">δ</tspan> [deg]
        </text>

        <text x={431} y={252} textAnchor="middle" fontSize={14.5} {...txt}>
          G<tspan fontSize={10} dy={3} fontStyle="italic">BP</tspan>
          <tspan dy={-3}> - G</tspan>
          <tspan fontSize={10} dy={3} fontStyle="italic">RP</tspan>
        </text>
        <text transform="translate(323,122) rotate(-90)" textAnchor="middle" fontSize={14.5} {...txt}>G</text>
        <text transform="translate(573,122) rotate(-90)" textAnchor="middle" fontSize={14.5} {...txt}>membership score</text>

        <text x={746} y={14.5} textAnchor="middle" fontSize={16.5} {...txt}>
          <tspan fontStyle="italic">ϖ</tspan> S/N: 5.53
        </text>
        <text x={746} y={253} textAnchor="middle" fontSize={14.5} {...txt}>
          <tspan fontStyle="italic">ϖ</tspan> [mas]
        </text>
        <text transform="translate(604,121.5) rotate(-90)" textAnchor="middle" fontSize={14.5} {...txt}>density (normalised)</text>

        <text x={1033} y={14.5} textAnchor="middle" fontSize={16.5} {...txt}>
          <tspan fontStyle="italic">μ</tspan> S/N: 43.20
        </text>
        <text x={1033} y={252} textAnchor="middle" fontSize={14.5} {...txt}>
          <tspan fontStyle="italic">μ</tspan>
          <tspan fontSize={10} dy={3} fontStyle="italic">α∗</tspan>
          <tspan dy={-3}> [mas/yr]</tspan>
        </text>
        <text transform="translate(905,122) rotate(-90)" textAnchor="middle" fontSize={14.5} {...txt}>
          <tspan fontStyle="italic">μ</tspan>
          <tspan fontSize={10} dy={3} fontStyle="italic">δ</tspan>
          <tspan dy={-3}> [mas/yr]</tspan>
        </text>
        <text transform="translate(1194,122) rotate(-90)" textAnchor="middle" fontSize={14.5} {...txt}>
          |Δ<tspan fontStyle="italic">ϖ</tspan>| [mas]
        </text>
      </svg>
    </div>
  );
}
